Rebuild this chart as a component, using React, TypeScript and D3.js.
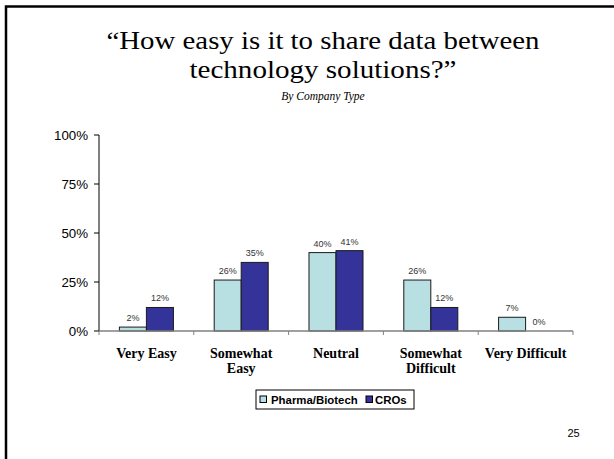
import React from "react";
import * as d3 from "d3";

const categories: string[][] = [
  ["Very Easy"],
  ["Somewhat", "Easy"],
  ["Neutral"],
  ["Somewhat", "Difficult"],
  ["Very Difficult"],
];
const seriesNames = ["Pharma/Biotech", "CROs"];
const pharma = [0.02, 0.26, 0.40, 0.26, 0.07];
const cros = [0.12, 0.35, 0.41, 0.12, 0.0];
const yTicks = [0, 0.25, 0.5, 0.75, 1];
const titleLines = ["“How easy is it to share data between", "technology solutions?”"];
const subtitle = "By Company Type";
const colors = ["#B8E0E3", "#333399"];

const W = 614;
const H = 459;
const serif = "'Liberation Serif', 'Times New Roman', serif";
const sans = "'Liberation Sans', Arial, sans-serif";

export default function App() {
  const keys = categories.map((c) => c.join(" "));
  const x = d3.scaleBand<string>().domain(keys).range([99, 573]).paddingInner(0).paddingOuter(0);
  const xs = d3.scaleBand<string>().domain(seriesNames).range([0, x.bandwidth()]).paddingInner(0).paddingOuter(0.755);
  const y = d3.scaleLinear().domain([0, 1]).range([331, 135]);
  const values = [pharma, cros];
  const fmt = d3.format(".0%");
  const y0 = y(0);
  const titleLengths = [433, 267];

  return (
    <svg width={W} height={H} style={{ position: "absolute", left: 0, top: 0, background: "#fff" }}>
      <rect x={0} y={0} width={W} height={H} fill="#fff" />
      <rect x={6} y={6.5} width={W + 20} height={H + 20} fill="none" stroke="#000" strokeWidth={2.5} />

      {titleLines.map((t, i) => (
        <text
          key={i}
          x={323}
          y={48.5 + i * 29.5}
          textAnchor="middle"
          fontFamily={serif}
          fontSize={25.5}
          textLength={titleLengths[i]}
          lengthAdjust="spacingAndGlyphs"
          fill="#000"
        >
          {t}
        </text>
      ))}
      <text x={323} y={100} textAnchor="middle" fontFamily={serif} fontSize={11.5} fontStyle="italic" fill="#000">
        {subtitle}
      </text>

      {/* y axis */}
      <line x1={99} x2={99} y1={y(1)} y2={y0} stroke="#000" strokeWidth={1} />
      {yTicks.map((t) => (
        <g key={t}>
          <line x1={94} x2={99} y1={y(t)} y2={y(t)} stroke="#000" strokeWidth={1} />
          <text x={88} y={y(t)} dy="0.36em" textAnchor="end" fontFamily={sans} fontSize={13.3} fill="#000">
            {fmt(t)}
          </text>
        </g>
      ))}

      {/* bars */}
      {values.map((vals, si) =>
        vals.map((v, ci) => {
          const bx = (x(keys[ci]) as number) + (xs(seriesNames[si]) as number);
          const bw = xs.bandwidth();
          return (
            <g key={`${si}-${ci}`}>
              {v > 0 && (
                <rect x={bx} y={y(v)} width={bw} height={y0 - y(v)} fill={colors[si]} stroke="#1a1a1a" strokeWidth={1} />
              )}
              <text x={bx + bw / 2} y={y(v) - 6} textAnchor="middle" fontFamily={sans} fontSize={9} fill="#333">
                {fmt(v)}
              </text>
            </g>
          );
        })
      )}

      {/* x axis */}
      <line x1={99} x2={573} y1={y0} y2={y0} stroke="#808080" strokeWidth={1.5} />
      {[...keys.map((k) => x(k) as number), 573].map((tx, i) => (
        <line key={i} x1={tx} x2={tx} y1={y0} y2={y0 + 4} stroke="#808080" strokeWidth={1} />
      ))}
      {categories.map((lines, ci) =>
        lines.map((ln, li) => (
          <text
            key={`${ci}-${li}`}
            x={(x(keys[ci]) as number) + x.bandwidth() / 2}
            y={358 + li * 15}
            textAnchor="middle"
            fontFamily={serif}
            fontWeight="bold"
            fontSize={14}
            fill="#000"
          >
            {ln}
          </text>
        ))
      )}

      {/* legend */}
      <rect x={256} y={390} width={158} height={19} fill="#fff" stroke="#000" strokeWidth={1} />
      <rect x={260} y={396} width={6.5} height={6.5} fill={colors[0]} stroke="#000" strokeWidth={1} />
      <text x={271} y={403.5} fontFamily={sans} fontWeight="bold" fontSize={11.4} fill="#000">
        {seriesNames[0]}
      </text>
      <rect x={366} y={396} width={6.5} height={6.5} fill={colors[1]} stroke="#000" strokeWidth={1} />
      <text x={375} y={403.5} fontFamily={sans} fontWeight="bold" fontSize={11.4} fill="#000">
        {seriesNames[1]}
      </text>

      <text x={573.5} y={437} textAnchor="middle" fontFamily={sans} fontSize={11} fill="#000">
        25
      </text>
    </svg>
  );
}
